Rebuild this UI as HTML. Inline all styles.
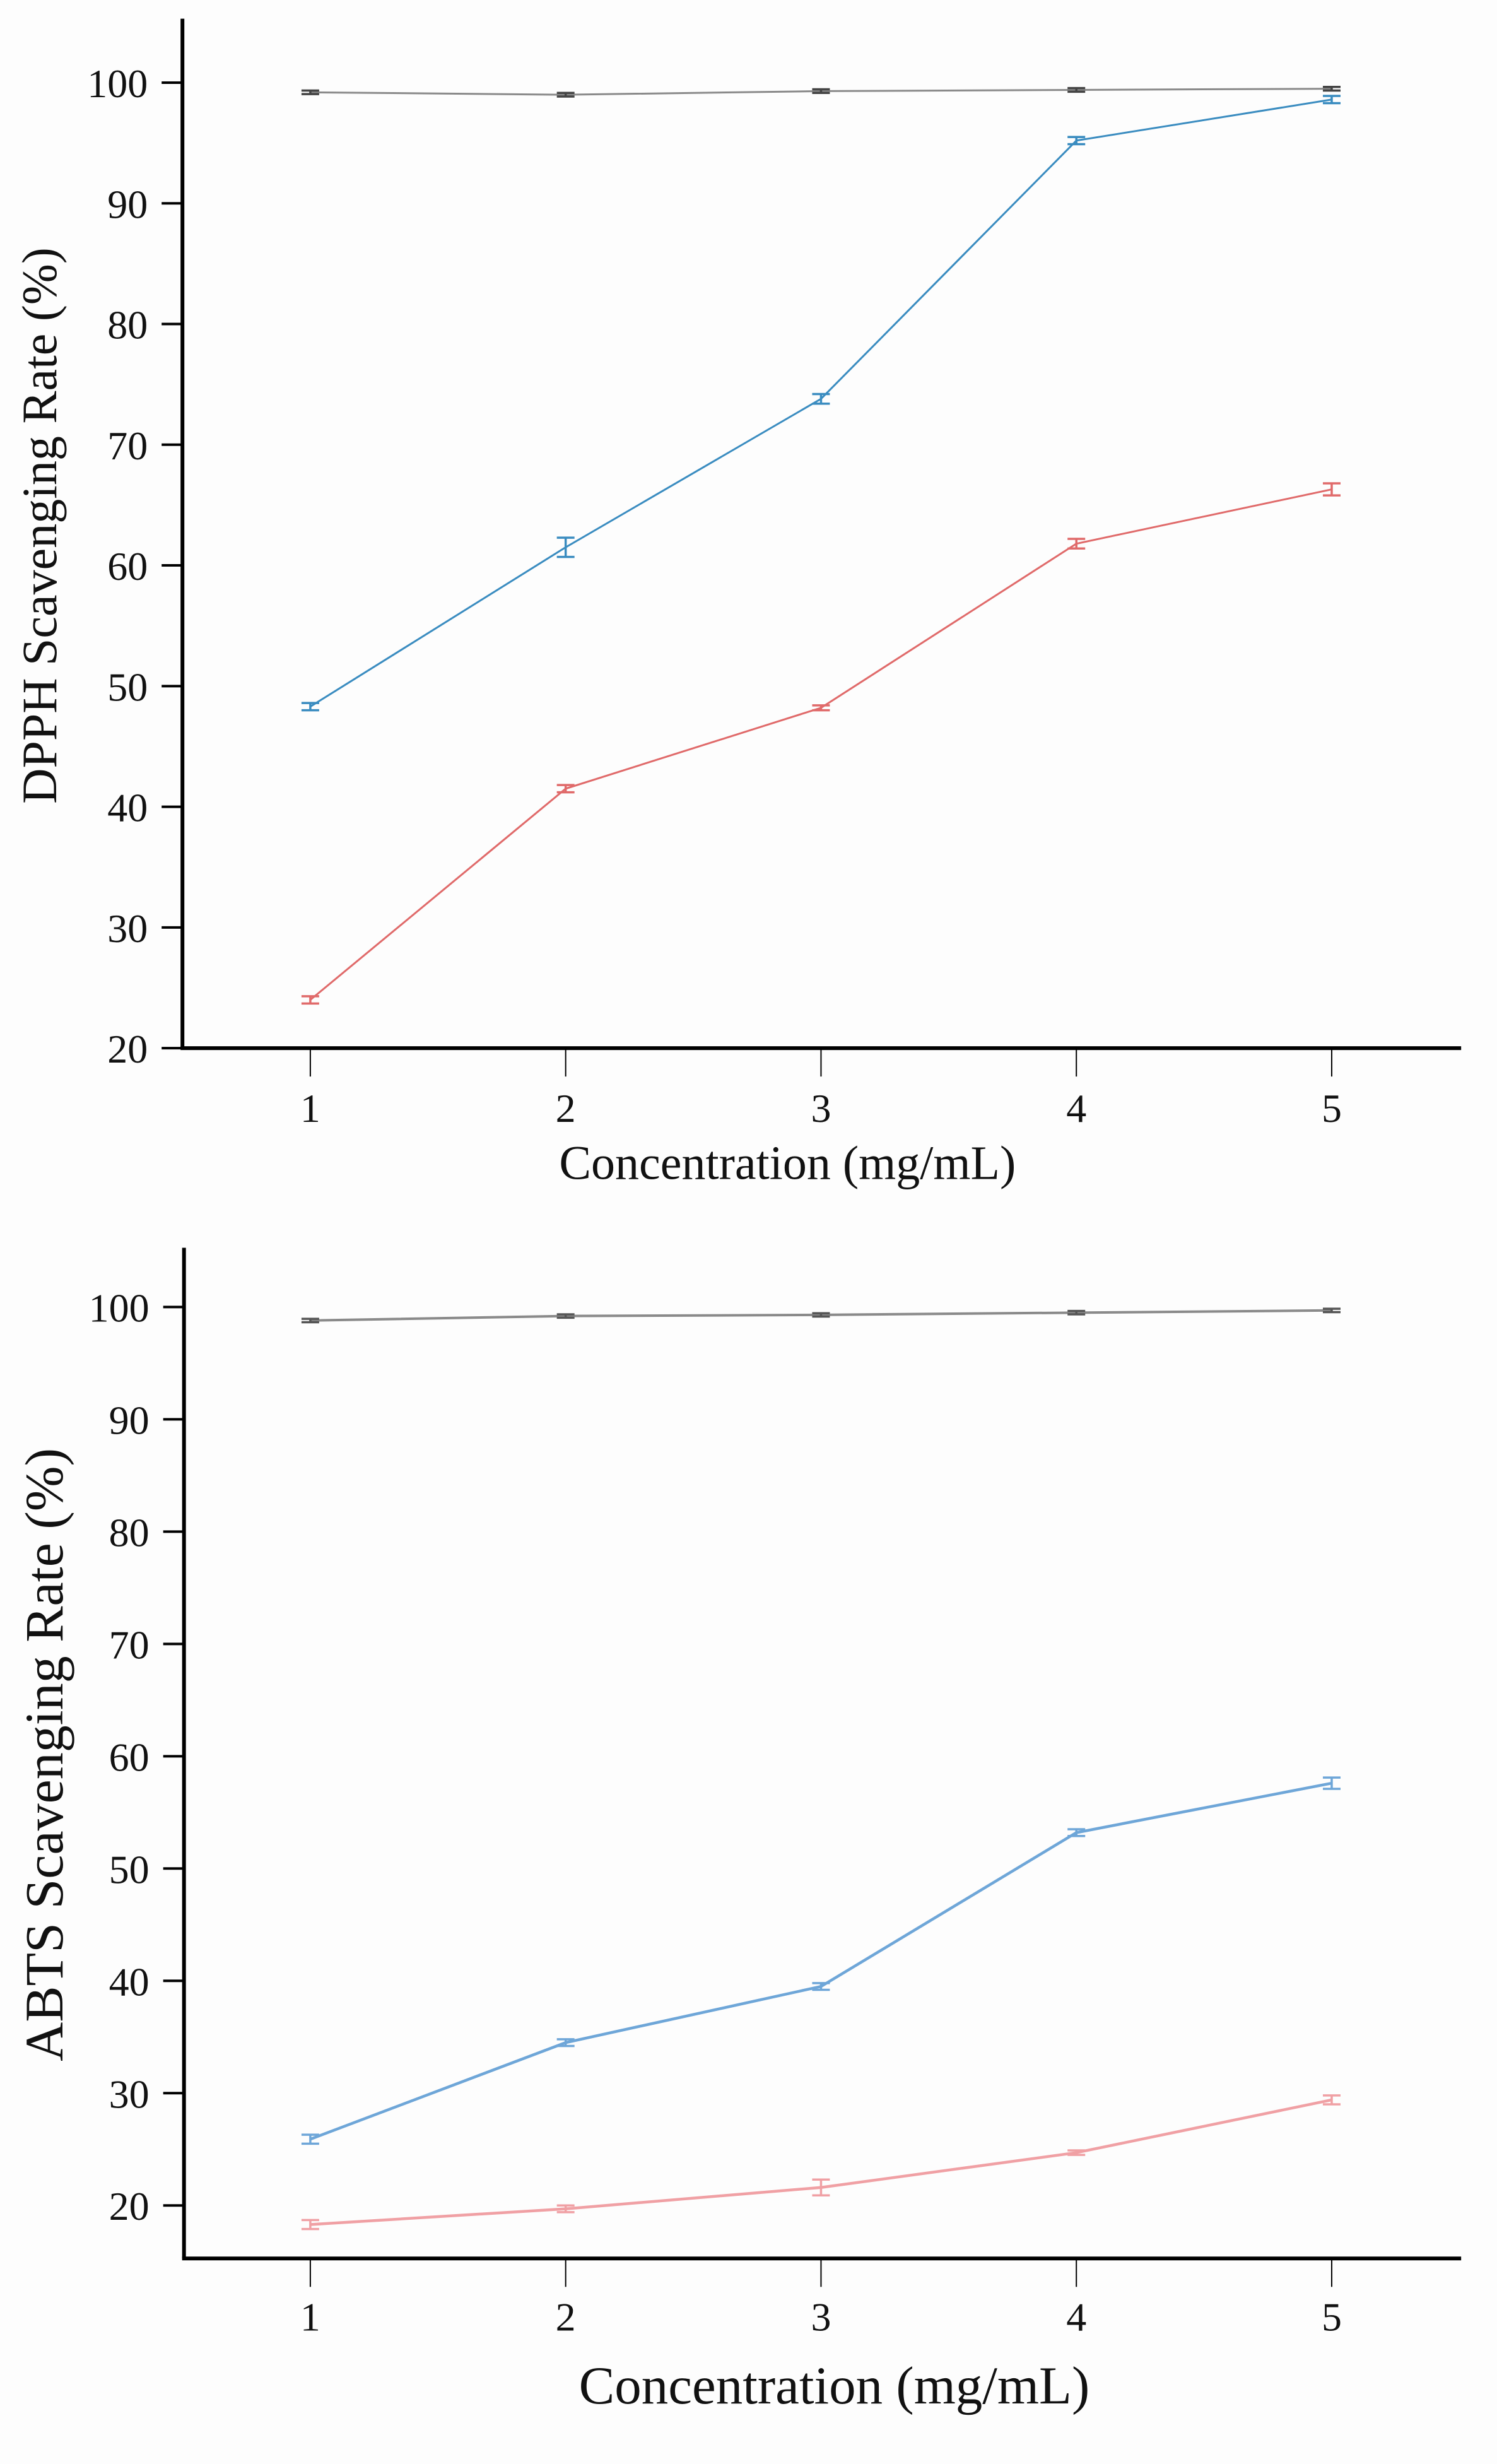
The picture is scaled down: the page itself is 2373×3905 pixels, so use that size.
<!DOCTYPE html>
<html><head><meta charset="utf-8"><style>
html,body{margin:0;padding:0;background:#fdfdfd;}
svg{display:block;}
text{font-family:"Liberation Serif",serif;fill:#111;}
</style></head><body>
<svg id="fig" width="2373" height="3905" viewBox="0 0 2373 3905" xmlns="http://www.w3.org/2000/svg">
<rect x="0" y="0" width="2373" height="3905" fill="#fdfdfd"/>
</svg>
<script>
const categories = [1, 2, 3, 4, 5];
const yTicks = [20, 30, 40, 50, 60, 70, 80, 90, 100];
const dpphControl = [99.2, 99.0, 99.3, 99.4, 99.5];
const dpphBlue = [48.3, 61.5, 73.8, 95.2, 98.6];
const dpphBlueErr = [0.3, 0.8, 0.4, 0.3, 0.3];
const dpphRed = [24.0, 41.5, 48.2, 61.8, 66.3];
const dpphRedErr = [0.3, 0.3, 0.2, 0.4, 0.5];
const abtsControl = [98.8, 99.2, 99.3, 99.5, 99.7];
const abtsBlue = [25.9, 34.5, 39.5, 53.2, 57.6];
const abtsBlueErr = [0.4, 0.3, 0.3, 0.3, 0.5];
const abtsRed = [18.3, 19.7, 21.6, 24.7, 29.4];
const abtsRedErr = [0.4, 0.3, 0.7, 0.2, 0.4];

const NS = "http://www.w3.org/2000/svg";
const svg = document.getElementById('fig');
const S = 2373 / 960;
function mk(tag, attrs, parent) {
  const e = document.createElementNS(NS, tag);
  for (const k in attrs) e.setAttribute(k, attrs[k]);
  (parent || svg).appendChild(e);
  return e;
}

function chart(cfg) {
  const g = mk('g', {});
  
  
  const X0 = cfg.axX * S, Ytop = cfg.axTop * S, Ybot = cfg.axBot * S, Xr = cfg.axRight * S;
  const xs = c => (199 + (c - 1) * 163.75) * S;
  const ys = v => (cfg.y20 + (v - 20) * (cfg.y100 - cfg.y20) / 80) * S;
  const ya = mk('line', {x1: X0, y1: Ytop, x2: X0, y2: Ybot, stroke: '#000', 'stroke-width': 6}, g);
  
  
  const xa = mk('line', {x1: X0 - 3, y1: Ybot, x2: Xr, y2: Ybot, stroke: '#000', 'stroke-width': 6}, g);
  
  
  yTicks.forEach(t => {
    const y = ys(t);
    const tk = mk('line', {x1: X0 - 33, y1: y, x2: X0, y2: y, stroke: '#000', 'stroke-width': 4}, g);
    
    
    const tl = mk('text', {x: X0 - 55, y: y + 23, 'text-anchor': 'end', 'font-size': 64}, g);
    tl.textContent = t;
    
    
  });
  categories.forEach(c => {
    const x = xs(c);
    const tk = mk('line', {x1: x, y1: Ybot, x2: x, y2: Ybot + 45, stroke: '#000', 'stroke-width': 2}, g);
    
    
    const tl = mk('text', {x: x, y: cfg.xLabY * S + 23, 'text-anchor': 'middle', 'font-size': 64}, g);
    tl.textContent = c;
    
    
  });
  const xt = mk('text', {x: cfg.xTitleX * S, y: cfg.xTitleY * S + 27, 'text-anchor': 'middle', 'font-size': cfg.xTitleSize}, g);
  xt.textContent = 'Concentration (mg/mL)';
  
  
  const yt = mk('text', {x: 0, y: 0, 'text-anchor': 'middle', 'font-size': cfg.yTitleSize,
    transform: `translate(${cfg.yTitleX * S},${cfg.yTitleY * S}) rotate(-90)`}, g);
  yt.textContent = cfg.yTitle;
  
  

  cfg.series.forEach(sr => {
    const sg = mk('g', {}, g);
    
    
    const pts = categories.map((c, i) => xs(c) + ',' + ys(sr.vals[i])).join(' ');
    const pl = mk('polyline', {points: pts, fill: 'none', stroke: sr.color, 'stroke-width': sr.w}, sg);
    
    
    categories.forEach((c, i) => {
      const e = sr.err ? sr.err[i] : 0.15;
      const x = xs(c), y1 = ys(sr.vals[i] + e), y2 = ys(sr.vals[i] - e);
      const eb = mk('path', {d: `M${x - 14},${y1}H${x + 14}M${x},${y1}V${y2}M${x - 14},${y2}H${x + 14}`,
        fill: 'none', stroke: sr.errColor || sr.color, 'stroke-width': 3.5}, sg);
      
      
    });
  });
}

chart({name: 'dpph-chart', axX: 117, axTop: 12, axBot: 672, axRight: 937, y20: 672, y100: 53,
  xLabY: 710, xTitleX: 505, xTitleY: 745, xTitleSize: 76, yTitleX: 36, yTitleY: 337, yTitleSize: 78,
  yTitle: 'DPPH Scavenging Rate (%)',
  series: [
    {name: 'dpph-control', vals: dpphControl, color: '#8a8a8a', errColor: '#444', w: 3},
    {name: 'dpph-blue', vals: dpphBlue, err: dpphBlueErr, color: '#3a8cc0', w: 3},
    {name: 'dpph-red', vals: dpphRed, err: dpphRedErr, color: '#e06a6a', w: 3}
  ]});

chart({name: 'abts-chart', axX: 118, axTop: 800, axBot: 1448, axRight: 937, y20: 1414, y100: 838,
  xLabY: 1485, xTitleX: 535, xTitleY: 1530, xTitleSize: 85, yTitleX: 40, yTitleY: 1125, yTitleSize: 86,
  yTitle: 'ABTS Scavenging Rate (%)',
  series: [
    {name: 'abts-control', vals: abtsControl, color: '#8a8a8a', errColor: '#555', w: 4},
    {name: 'abts-blue', vals: abtsBlue, err: abtsBlueErr, color: '#6ea6d8', w: 4.5},
    {name: 'abts-red', vals: abtsRed, err: abtsRedErr, color: '#f0a0a4', w: 4.5}
  ]});
</script>
</body></html>
